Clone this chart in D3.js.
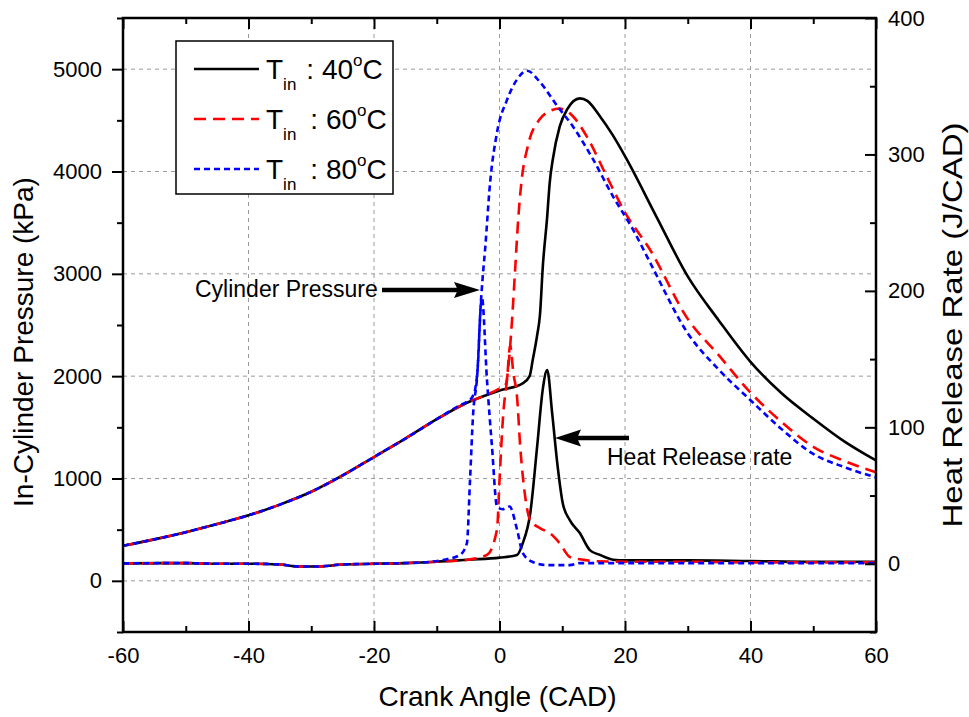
<!DOCTYPE html>
<html>
<head>
<meta charset="utf-8">
<script src="https://cdn.jsdelivr.net/npm/d3@7/dist/d3.min.js"></script>
<style>
  body { margin: 0; background: #fff; }
  svg { display: block; font-family: "Liberation Sans", Arial, Helvetica, sans-serif; }
</style>
</head>
<body>
<svg id="chart" width="969" height="717"></svg>
<script>
// ---------------- DATA ----------------
const xTicks = [-60, -40, -20, 0, 20, 40, 60];
const xMinorTicks = [-50, -30, -10, 10, 30, 50];
const leftTicks = [0, 1000, 2000, 3000, 4000, 5000];
const leftMinorTicks = [-500, 500, 1500, 2500, 3500, 4500, 5500];
const rightTicks = [0, 100, 200, 300, 400];
const rightMinorTicks = [-50, 50, 150, 250, 350];

const seriesNames = ["40", "60", "80"];

// Cylinder pressure (kPa) vs crank angle (CAD)
const p40Cad = [-60,-55,-50,-45,-40,-35,-30,-25,-20,-15,-10,-5,0,3.7,4.8,5.3,6.0,6.45,6.9,7.6,8.0,8.5,9.6,10.8,12.8,14,16,18,20,25,30,35,40,45,50,55,60];
const p40Val = [343,405,475,555,640,745,870,1030,1210,1390,1580,1745,1860,1930,2000,2160,2400,2600,3070,3560,3890,4120,4440,4610,4715,4690,4540,4360,4150,3560,2975,2540,2140,1830,1585,1360,1176];

const p60Cad = [-60,-55,-50,-45,-40,-35,-30,-25,-20,-15,-10,-5,-2,0,1,1.5,2,2.5,3,3.5,4.5,6.4,8,9.5,10.5,11.7,13.9,17.1,20,24,30,35,40,45,50,55,60];
const p60Val = [343,405,475,555,640,745,870,1030,1210,1390,1580,1745,1820,1880,1920,2150,2550,3050,3550,3900,4245,4510,4590,4615,4600,4540,4343,3950,3600,3235,2560,2200,1840,1550,1310,1170,1060];

const p80Cad = [-60,-55,-50,-45,-40,-35,-30,-25,-20,-15,-10,-6.5,-5.2,-4.3,-3.8,-3.4,-3.1,-2.7,-2.3,-1.5,-0.4,1.2,2.8,4.4,6.5,9.2,11.7,14.9,18.1,21.3,24,30,35,40,45,50,55,60];
const p80Val = [343,405,475,555,640,745,870,1030,1210,1390,1580,1710,1750,1800,1900,2150,2580,2950,3235,3890,4380,4700,4900,4985,4870,4640,4440,4120,3755,3430,3110,2420,2060,1765,1480,1240,1110,1010];

// Heat release rate (J/CAD) vs crank angle (CAD)
const h40Cad = [-60,-50,-45,-40,-35,-32,-29,-25,-20,-15,-10,-5,0,2.8,3.7,4.9,6,6.9,7.6,8.4,9.2,10.1,11.2,12.8,14.4,16,18.1,20,30,40,50,60];
const h40Val = [0.3,0.5,0,0,-0.5,-2,-2,-0.5,0,0.5,1.5,3,4.5,6.5,15,37,86,128,142,110,74,44,32,22.5,10,6.5,3,2.5,2.5,2,1.5,1.5];

const h60Cad = [-60,-50,-45,-40,-35,-32,-29,-25,-20,-15,-10,-5,-2,-0.4,0,0.6,1.2,1.7,2.2,2.8,3.3,4.1,4.9,6.5,8,9.6,11.2,13.3,15,20,30,40,60];
const h60Val = [0.3,0.5,0,0,-0.5,-2,-2,-0.5,0,0.5,1.5,3,6.5,25,61,110,135,160,140,122,86,49,32,26,22.5,15,5,3,2,1.5,1.5,1,1];

const h80Cad = [-60,-50,-45,-40,-35,-32,-29,-25,-20,-15,-12,-9,-6.3,-5.2,-4.7,-4.2,-3.6,-2.8,-2.0,-1.2,-0.4,0.5,1.6,2.8,3.7,5.3,7.6,11.2,12.8,20,40,60];
const h80Val = [0.3,0.5,0,0,-0.5,-2,-2,-0.5,0,0.5,1,2.8,6.5,15,61,110,135,195,135,86,42,40,42,25,8,1.3,-1,-1,0.5,0.5,0.5,0.5];

// ---------------- LAYOUT ----------------
const svg = d3.select("#chart");
const L = 123, R = 876, T = 18, B = 632;

const x = d3.scaleLinear().domain([-60, 60]).range([L, R]);
const yL = d3.scaleLinear().domain([-500, 5500]).range([B, T]);
const yR = d3.scaleLinear().domain([-50, 400]).range([B, T]);

const colors = {"40": "#000000", "60": "#ff0000", "80": "#0000ff"};
const dashes = {"40": null, "60": "12,7", "80": "6,4"};
const fmt = d => String(d);

// grid
const grid = svg.append("g").attr("stroke", "#9a9a9a").attr("stroke-width", 1).attr("stroke-dasharray", "4,4");
grid.selectAll("line.h").data(leftTicks).join("line")
  .attr("x1", L).attr("x2", R).attr("y1", d => yL(d)).attr("y2", d => yL(d));
grid.selectAll("line.v").data(xTicks.filter(d => d > -60 && d < 60)).join("line")
  .attr("y1", T).attr("y2", B).attr("x1", d => x(d)).attr("x2", d => x(d));

// clip
svg.append("clipPath").attr("id", "clip").append("rect")
  .attr("x", L).attr("y", T).attr("width", R - L).attr("height", B - T);

const plot = svg.append("g").attr("clip-path", "url(#clip)");
const zip = (a, b) => a.map((v, i) => [v, b[i]]);

const pressure = {"40": zip(p40Cad, p40Val), "60": zip(p60Cad, p60Val), "80": zip(p80Cad, p80Val)};
const hrr = {"40": zip(h40Cad, h40Val), "60": zip(h60Cad, h60Val), "80": zip(h80Cad, h80Val)};

const lineL = d3.line().x(d => x(d[0])).y(d => yL(d[1])).curve(d3.curveMonotoneX);
const lineR = d3.line().x(d => x(d[0])).y(d => yR(d[1])).curve(d3.curveMonotoneX);

seriesNames.forEach(k => {
  [[pressure[k], lineL], [hrr[k], lineR]].forEach(([data, gen]) => {
    plot.append("path").datum(data)
      .attr("fill", "none")
      .attr("stroke", colors[k])
      .attr("stroke-width", 2.6)
      .attr("stroke-dasharray", dashes[k])
      .attr("stroke-linejoin", "round")
      .attr("d", gen);
  });
});

// ---------------- AXES ----------------
const fs = 22;
function styleAxis(g) {
  g.select(".domain").remove();
  g.selectAll(".tick line").attr("stroke", "#000").attr("stroke-width", 2);
  g.selectAll("text").attr("font-size", fs).attr("fill", "#000").attr("font-family", "Liberation Sans, Arial, sans-serif");
}

// bottom
svg.append("g").attr("transform", `translate(0,${B})`)
  .call(d3.axisBottom(x).tickValues(xTicks).tickSize(-11).tickPadding(15).tickFormat(fmt))
  .call(styleAxis);
svg.append("g").attr("transform", `translate(0,${B})`)
  .call(d3.axisBottom(x).tickValues(xMinorTicks).tickSize(-6).tickFormat(""))
  .call(styleAxis);
// top
svg.append("g").attr("transform", `translate(0,${T})`)
  .call(d3.axisTop(x).tickValues(xTicks).tickSize(-11).tickFormat(""))
  .call(styleAxis);
svg.append("g").attr("transform", `translate(0,${T})`)
  .call(d3.axisTop(x).tickValues(xMinorTicks).tickSize(-6).tickFormat(""))
  .call(styleAxis);
// left
svg.append("g").attr("transform", `translate(${L},0)`)
  .call(d3.axisLeft(yL).tickValues(leftTicks).tickSize(11).tickPadding(10).tickFormat(fmt))
  .call(styleAxis);
svg.append("g").attr("transform", `translate(${L},0)`)
  .call(d3.axisLeft(yL).tickValues(leftMinorTicks).tickSize(6).tickFormat(""))
  .call(styleAxis);
// right
svg.append("g").attr("transform", `translate(${R},0)`)
  .call(d3.axisRight(yR).tickValues(rightTicks).tickSize(-11).tickPadding(12).tickFormat(fmt))
  .call(styleAxis);
svg.append("g").attr("transform", `translate(${R},0)`)
  .call(d3.axisRight(yR).tickValues(rightMinorTicks).tickSize(-6).tickFormat(""))
  .call(styleAxis);

// frame
svg.append("rect").attr("x", L).attr("y", T).attr("width", R - L).attr("height", B - T)
  .attr("fill", "none").attr("stroke", "#000").attr("stroke-width", 2.5);

// axis titles
svg.append("text").attr("x", (L + R) / 2 - 2).attr("y", 706).attr("text-anchor", "middle")
  .attr("font-size", 28).text("Crank Angle (CAD)");
svg.append("text").attr("transform", "translate(33,342) rotate(-90)").attr("text-anchor", "middle")
  .attr("font-size", 28).text("In-Cylinder Pressure (kPa)");
svg.append("text").attr("transform", "translate(962,325) rotate(-90)").attr("text-anchor", "middle")
  .attr("font-size", 28).attr("textLength", 405).attr("lengthAdjust", "spacingAndGlyphs")
  .text("Heat Release Rate (J/CAD)");

// annotations
function arrow(x1, x2, y, headLen, headHalf) {
  const dir = Math.sign(x2 - x1);
  svg.append("line").attr("x1", x1).attr("x2", x2 - dir * headLen * 0.6).attr("y1", y).attr("y2", y)
    .attr("stroke", "#000").attr("stroke-width", 4.5);
  svg.append("path")
    .attr("d", `M${x2},${y} L${x2 - dir * headLen},${y - headHalf} L${x2 - dir * headLen * 0.85},${y} L${x2 - dir * headLen},${y + headHalf} Z`)
    .attr("fill", "#000");
}
svg.append("text").attr("x", 195).attr("y", 297).attr("font-size", 23).text("Cylinder Pressure");
arrow(382, 480, 290, 26, 8);
svg.append("text").attr("x", 607).attr("y", 465).attr("font-size", 23).text("Heat Release rate");
arrow(629, 555, 438, 26, 8.5);

// legend
const lg = svg.append("g");
lg.append("rect").attr("x", 176).attr("y", 41).attr("width", 217).attr("height", 153)
  .attr("fill", "#fff").attr("stroke", "#000").attr("stroke-width", 1.5);
seriesNames.forEach((k, i) => {
  const cy = 69 + i * 50;
  lg.append("line").attr("x1", 194).attr("x2", 259).attr("y1", cy).attr("y2", cy)
    .attr("stroke", colors[k]).attr("stroke-width", 2.6).attr("stroke-dasharray", dashes[k]);
  const t = lg.append("text").attr("x", 266).attr("y", cy + 10).attr("font-size", 28);
  t.append("tspan").text("T");
  t.append("tspan").attr("font-size", 17).attr("dy", 11).text("in");
  t.append("tspan").attr("dy", -11).attr("dx", i === 0 ? 10 : 14).text(": " + k);
  t.append("tspan").attr("font-size", 17).attr("dy", -13).text("o");
  t.append("tspan").attr("dy", 13).text("C");
});
</script>
</body>
</html>
